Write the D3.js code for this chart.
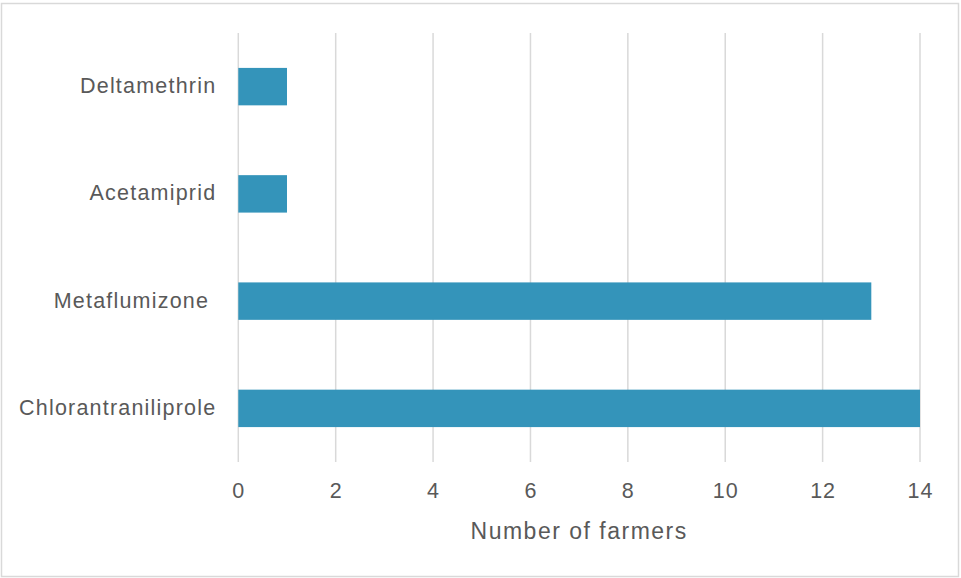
<!DOCTYPE html>
<html><head><meta charset="utf-8">
<script src="https://cdn.jsdelivr.net/npm/d3@7"></script>
<style>body{margin:0;background:#fff}svg{display:block}text{white-space:pre}</style>
</head><body>
<script>
const categories = ["Deltamethrin", "Acetamiprid", "Metaflumizone ", "Chlorantraniliprole"];
const values = [1, 1, 13, 14];
const xTicks = [0, 2, 4, 6, 8, 10, 12, 14];
const xTitle = "Number of farmers";

const W = 961, H = 578;
const m = {left: 238.3, right: 41, top: 33, bottom: 116};
const svg = d3.select("body").append("svg").attr("width", W).attr("height", H);
svg.append("rect").attr("x", 1.5).attr("y", 3.5).attr("width", 957).attr("height", 573)
  .attr("fill", "#fff").attr("stroke", "#d9d9d9").attr("stroke-width", 1.5);

const x = d3.scaleLinear().domain([0, 14]).range([m.left, W - m.right]);
const y = d3.scaleBand().domain(categories).range([m.top, H - m.bottom]).paddingInner(0.651).paddingOuter(0.3255);
const font = "'Liberation Sans', Arial, sans-serif";

svg.append("g").selectAll("line").data(xTicks).join("line")
  .attr("x1", d => x(d)).attr("x2", d => x(d)).attr("y1", m.top).attr("y2", H - m.bottom)
  .attr("stroke", "#d9d9d9").attr("stroke-width", 1.5);

svg.append("g").selectAll("rect").data(categories).join("rect")
  .attr("x", x(0)).attr("y", d => y(d)).attr("height", y.bandwidth())
  .attr("width", (d, i) => x(values[i]) - x(0)).attr("fill", "#3494ba");

const xa = svg.append("g").attr("transform", `translate(0,${H - m.bottom})`)
  .call(d3.axisBottom(x).tickValues(xTicks).tickSize(0).tickPadding(21));
xa.select(".domain").remove();
xa.selectAll("text").attr("font-family", font).attr("font-size", 21.5).attr("fill", "#595959")
  .attr("letter-spacing", 1);

const ya = svg.append("g").attr("transform", `translate(${m.left},0)`)
  .call(d3.axisLeft(y).tickSize(0).tickPadding(22));
ya.select(".domain").remove();
ya.selectAll("text").attr("font-family", font).attr("font-size", 21.5).attr("fill", "#595959")
  .attr("letter-spacing", 1.2).attr("dy", "0.3em");

svg.append("text").attr("x", (x(0) + x(14)) / 2).attr("y", 539).attr("text-anchor", "middle")
  .attr("font-family", font).attr("font-size", 23).attr("fill", "#595959")
  .attr("letter-spacing", 1.5).text(xTitle);
</script>
</body></html>
